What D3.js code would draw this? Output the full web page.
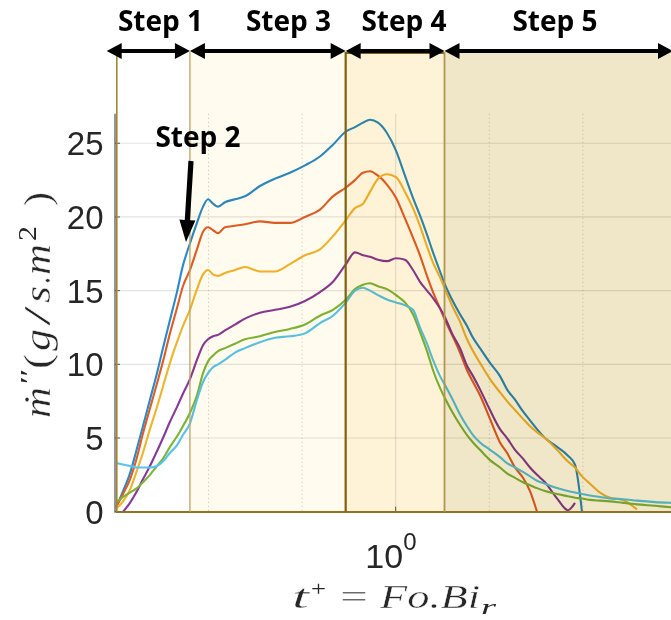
<!DOCTYPE html>
<html><head><meta charset="utf-8">
<script src="https://cdn.jsdelivr.net/npm/d3@7"></script>
<style>body{margin:0;background:#fff}svg{display:block}</style>
</head><body>
<svg id="c" width="671" height="620"></svg>
<script>
// ---- data ----
const tPlus = [0.2526,0.2615,0.2706,0.2801,0.2884,0.2985,0.3090,0.3183,0.3294,0.3409,0.3511,0.3634,0.3762,0.3876,0.3973,0.4072,0.4173,0.4318,0.4536,0.4764,0.5129,0.5522,0.5943,0.6400,0.6891,0.7345,0.7829,0.8185,0.8514,0.8812,0.9167,0.9581,1.0015,1.0468,1.0888,1.1270,1.1665,1.2016,1.2437,1.2744,1.3192,1.3722,1.4204,1.4630,1.5141,1.5905,1.6707,1.7292,1.7985,1.8707,1.9364,2.0043,2.0845,2.2114,2.3340,2.4160,2.5007,2.6014,2.7320,2.8703,3.0598,3.2783,3.5826,3.8745,4.4690];
const mBlue = [0.3,1.4,2.6,4.3,5.8,7.6,9.4,11.1,13.0,14.9,16.7,18.2,19.6,20.7,21.2,20.9,20.7,21.0,21.2,21.4,22.1,22.6,23.0,23.5,24.1,24.9,25.8,26.1,26.4,26.6,26.4,25.7,24.5,22.8,21.3,20.1,18.8,17.6,16.3,15.4,14.4,13.4,12.6,11.8,11.1,10.1,9.2,8.3,7.6,6.8,6.2,5.6,5.0,4.4,3.8,3.2,0,null,null,null,null,null,null,null,null];
const mOrange = [0.3,1.2,2.2,3.7,5.3,7.0,8.7,10.2,12.1,13.8,15.3,16.4,17.8,19.0,19.3,19.1,18.9,19.3,19.4,19.5,19.7,19.6,19.6,20.0,20.5,21.4,22.0,22.5,23.0,23.1,22.8,22.2,21.3,19.9,18.6,17.4,16.0,14.9,13.8,13.0,12.0,10.8,9.6,8.8,7.9,6.3,4.7,4.0,3.0,2.3,1.4,0,null,null,null,null,null,null,null,null,null,null,null,null,null];
const mYellow = [0.2,0.7,1.5,2.8,4.0,5.6,7.1,8.5,10.1,11.5,12.6,13.7,15.1,16.1,16.4,16.1,16.0,16.2,16.4,16.6,16.3,16.3,16.8,17.4,17.8,18.7,19.8,20.6,20.9,21.7,22.6,22.9,22.7,21.7,20.6,19.4,18.0,16.9,15.9,15.1,14.0,12.9,11.7,10.9,10.1,9.0,8.1,7.5,6.9,6.3,5.8,5.4,5.0,4.2,3.4,3.0,2.4,1.9,1.3,0.95,0.8,0.15,null,null,null];
const mPurple = [null,0.0,0.6,1.4,2.2,3.1,4.1,5.0,6.1,7.1,8.0,9.0,10.3,11.3,11.7,11.9,12.0,12.3,12.7,13.1,13.5,13.7,13.9,14.3,14.9,15.6,16.8,17.6,17.4,17.3,17.1,17.0,17.2,17.1,16.4,15.6,15.0,14.5,13.8,13.2,12.1,11.1,9.9,9.2,8.3,6.9,5.6,5.0,4.2,3.6,3.0,2.5,2.0,0.9,0.1,0.6,null,null,null,null,null,null,null,null,null];
const mGreen = [0.6,1.0,1.3,1.6,2.0,2.5,3.1,3.6,4.4,5.1,5.8,6.7,7.9,9.4,10.2,10.6,10.9,11.1,11.4,11.7,11.9,12.2,12.4,12.7,13.3,13.7,14.4,15.1,15.4,15.5,15.3,15.1,14.7,14.2,13.4,12.2,10.9,9.6,8.4,7.7,6.8,5.9,5.2,4.7,4.2,3.5,3.0,2.6,2.3,2.0,1.8,1.6,1.4,1.2,1.05,0.95,0.9,0.8,0.75,0.7,0.6,0.5,0.4,0.3,0.25];
const mCyan = [3.3,3.2,3.1,3.0,3.0,3.0,3.1,3.4,4.0,4.5,5.2,6.0,7.6,8.8,9.4,9.8,10.0,10.3,10.8,11.1,11.5,11.8,11.9,12.1,12.8,13.3,14.2,15.0,15.2,15.0,14.7,14.4,14.2,14.0,13.7,12.5,11.4,10.3,9.2,8.6,7.7,6.6,5.8,5.2,4.7,4.2,3.7,3.3,3.0,2.7,2.4,2.1,1.9,1.6,1.4,1.3,1.2,1.1,1.0,0.9,0.85,0.75,0.65,0.6,0.55];
const seriesValues = [mBlue, mOrange, mYellow, mPurple, mGreen, mCyan];
const seriesColors = ["#2b89c8","#de5d25","#eeb42a","#86399a","#7db436","#58c3ee"];
const yTicks = [0,5,10,15,20,25];
const xMajorTicks = [1];
const xMinorGrid = [0.3981,0.6310,1.5849,2.5119,3.9811];
const stepBounds = [0.2526,0.3634,0.7819,1.2715,4.469];
const stepLabels = ["Step 1","Step 3","Step 4","Step 5"];
const stepFills = ["none","#fffbee","#fef3d7","#f0e6c8"];
const stepEdgeColors = ["#a3872f","#bfa463","#7d6210","#b09650"];
const stepEdgeWidths = [1.6,1.3,2.2,1.8];

// ---- scales ----
const svg = d3.select("#c");
svg.append("rect").attr("width",671).attr("height",620).attr("fill","#fff");
const x = d3.scaleLog().domain([0.2526,4.469]).range([116,700]);
const y = d3.scaleLinear().domain([0,27]).range([511.7,113.8]);
const yTop = y(27), yBot = y(0);

// grid
const g = svg.append("g");
g.selectAll(".hg").data(yTicks).join("line")
  .attr("x1",116).attr("x2",700).attr("y1",d=>y(d)).attr("y2",d=>y(d))
  .attr("stroke","rgba(0,0,0,0.11)").attr("stroke-width",1.2);
g.selectAll(".vg").data(xMajorTicks).join("line")
  .attr("x1",d=>x(d)).attr("x2",d=>x(d)).attr("y1",yTop).attr("y2",yBot)
  .attr("stroke","rgba(0,0,0,0.11)").attr("stroke-width",1.2);
g.selectAll(".vm").data(xMinorGrid).join("line")
  .attr("x1",d=>x(d)).attr("x2",d=>x(d)).attr("y1",yTop).attr("y2",yBot)
  .attr("stroke","rgba(0,0,0,0.22)").attr("stroke-width",1).attr("stroke-dasharray","1,3");

// curves
const line = d3.line().defined(d=>d[1]!==null).x(d=>x(d[0])).y(d=>y(d[1])).curve(d3.curveMonotoneX);
seriesValues.forEach((vals,i)=>{
  svg.append("path").datum(tPlus.map((t,j)=>[t,vals[j]]))
    .attr("d",line).attr("fill","none").attr("stroke",seriesColors[i])
    .attr("stroke-width",2.1).attr("stroke-linejoin","round");
});

// axes
svg.append("line").attr("x1",115).attr("x2",115).attr("y1",yTop).attr("y2",yBot+1)
  .attr("stroke","#7a7a7a").attr("stroke-width",1.6);
svg.selectAll(".yt").data(yTicks).join("line")
  .attr("x1",115).attr("x2",120).attr("y1",d=>y(d)).attr("y2",d=>y(d))
  .attr("stroke","#555").attr("stroke-width",1);
svg.selectAll(".ytl").data(yTicks).join("text")
  .attr("x",103.5).attr("y",d=>y(d)).attr("dy","0.36em").attr("text-anchor","end")
  .attr("font-family","'Liberation Sans',Arial,sans-serif").attr("font-size",33)
  .attr("fill","#262626").text(d=>d);
svg.selectAll(".xt").data(xMajorTicks).join("line")
  .attr("x1",d=>x(d)).attr("x2",d=>x(d)).attr("y1",yBot).attr("y2",yBot-5)
  .attr("stroke","#555").attr("stroke-width",1);
svg.selectAll(".xtl").data(xMajorTicks).join("text")
  .attr("x",d=>x(d)+7.5).attr("y",567.5).attr("text-anchor","end")
  .attr("font-family","'Liberation Sans',Arial,sans-serif").attr("font-size",34).attr("fill","#262626").text("10");
svg.selectAll(".xtle").data(xMajorTicks).join("text")
  .attr("x",d=>x(d)+7.5).attr("y",550)
  .attr("font-family","'Liberation Sans',Arial,sans-serif").attr("font-size",24).attr("fill","#262626").text("0");

// step boxes (multiply overlay)
const steps = stepLabels.map((l,i)=>({label:l,a:stepBounds[i],b:stepBounds[i+1],fill:stepFills[i]}));
svg.selectAll(".box").data(steps.filter(d=>d.fill!=="none")).join("rect")
  .attr("x",d=>x(d.a)).attr("y",52).attr("width",d=>x(d.b)-x(d.a)).attr("height",yBot-52)
  .attr("fill",d=>d.fill).style("mix-blend-mode","multiply");
svg.append("line").attr("x1",116).attr("x2",700).attr("y1",yBot+0.3).attr("y2",yBot+0.3)
  .attr("stroke","#8f7322").attr("stroke-width",2);
svg.append("line").attr("x1",x(stepBounds[2])).attr("x2",x(stepBounds[3])).attr("y1",53).attr("y2",53)
  .attr("stroke","#7d6210").attr("stroke-width",2);
svg.selectAll(".edge").data(stepBounds.slice(0,4)).join("line")
  .attr("x1",(d,i)=>x(d)+(i===0?0.8:0)).attr("x2",(d,i)=>x(d)+(i===0?0.8:0))
  .attr("y1",52).attr("y2",yBot)
  .attr("stroke",(d,i)=>stepEdgeColors[i]).attr("stroke-width",(d,i)=>stepEdgeWidths[i]);

// arrows
function dblArrow(xa,xb,yy){
  const hl=15, hw=8, sw=2;
  const p = d3.path();
  p.moveTo(xa,yy); p.lineTo(xa+hl,yy-hw); p.lineTo(xa+hl,yy-sw); p.lineTo(xb-hl,yy-sw);
  p.lineTo(xb-hl,yy-hw); p.lineTo(xb,yy); p.lineTo(xb-hl,yy+hw); p.lineTo(xb-hl,yy+sw);
  p.lineTo(xa+hl,yy+sw); p.lineTo(xa+hl,yy+hw); p.closePath();
  svg.append("path").attr("d",p.toString()).attr("fill","#000");
}
steps.forEach((d,i)=>{
  const xa = i===0 ? 106.7 : x(d.a);
  const xb = i===3 ? 673 : x(d.b);
  dblArrow(xa,xb,51);
});
const labelX = [160.5,288.5,404,555];
svg.selectAll(".sl").data(steps).join("text")
  .attr("x",(d,i)=>labelX[i]).attr("y",31).attr("text-anchor","middle")
  .attr("font-family","'Open Sans',sans-serif").attr("font-weight","bold").attr("font-size",28)
  .attr("fill","#000").text(d=>d.label);

// Step 2 annotation
svg.append("text").attr("x",198).attr("y",147).attr("text-anchor","middle")
  .attr("font-family","'Open Sans',sans-serif").attr("font-weight","bold").attr("font-size",28)
  .attr("fill","#000").text("Step 2");
(function(){
  const x1=191,y1=161,x2=186,y2=242, hl=22, hw=8, sw=2.6;
  const dx=x2-x1, dy=y2-y1, L=Math.hypot(dx,dy), ux=dx/L, uy=dy/L, nx=-uy, ny=ux;
  const bx=x2-ux*hl, by=y2-uy*hl;
  const pts=[[x1+nx*sw,y1+ny*sw],[bx+nx*sw,by+ny*sw],[bx+nx*hw,by+ny*hw],[x2,y2],
    [bx-nx*hw,by-ny*hw],[bx-nx*sw,by-ny*sw],[x1-nx*sw,y1-ny*sw]];
  svg.append("polygon").attr("points",pts.map(p=>p.join(",")).join(" ")).attr("fill","#000");
})();

// axis labels (serif italic, stretched to the reference extent, large glyphs thinned slightly)
const serif = "'Liberation Serif','Times New Roman',serif";
function piece(parent, txt, x0, yy, len, size, italic){
  const t = parent.append("text").attr("x",x0).attr("y",yy)
    .attr("font-family",serif).attr("font-size",size).attr("font-style",italic?"italic":"normal")
    .attr("fill","#262626")
    .attr("textLength",len).attr("lengthAdjust","spacingAndGlyphs").text(txt);
  if (size >= 30) t.attr("stroke","#fff").attr("stroke-width",0.4);
}
const xl = svg.append("g");
piece(xl,"t",292,608,17,33,true);
piece(xl,"+",311,596,15,22,false);
piece(xl,"=",340,608,28,33,false);
piece(xl,"Fo.Bi",380,608,100,33,true);
piece(xl,"r",481,614,15,22,true);

const yl = svg.append("g").attr("transform","translate(50,418) rotate(-90)");
piece(yl,"\u1E41",0,0,31,37,true);
piece(yl,"\u2032\u2032",32,-12,15,26,true);
piece(yl,"(",49,0,15,37,false);
piece(yl,"g",67,0,22,37,true);
piece(yl,"/",92,0,20,37,false);
piece(yl,"s",115,0,17,37,true);
piece(yl,".",134,0,7,37,false);
piece(yl,"m",143,0,31,37,true);
piece(yl,"2",177,-14,15,25,false);
piece(yl,")",212,0,14,37,false);
</script>
</body></html>
